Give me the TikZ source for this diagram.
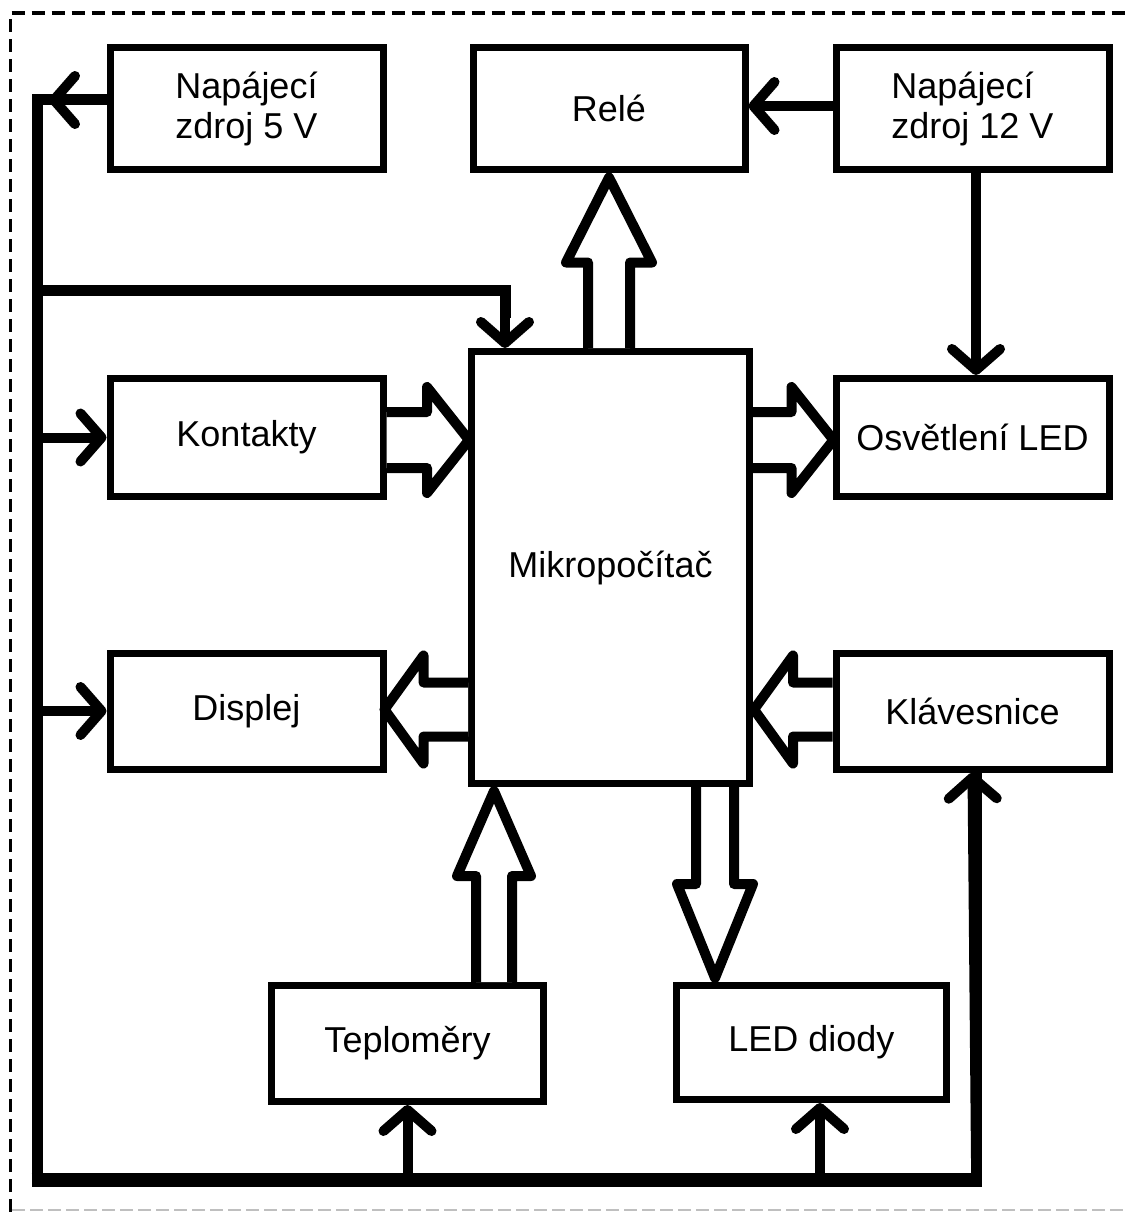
\documentclass[tikz,border=0pt]{standalone}
\usepackage{fontspec}
\setmainfont{Liberation Sans}
\usetikzlibrary{arrows.meta,calc}
\begin{document}
\begin{tikzpicture}[x=1pt,y=-1pt,
  blok/.style={draw, line width=7pt, fill=white, inner sep=0pt, align=left,
    minimum width=273pt, font=\fontsize{36}{40}\selectfont},
  hollow/.style={draw, line width=10pt, line join=round, fill=white},
  arr/.style={line width=10pt, -{Straight Barb[length=21pt,width=48pt,round]}},
  bus/.style={line width=11pt, line join=miter},
  frame/.style={line width=3.5pt, dash pattern=on 13pt off 7pt},
  frameb/.style={line width=2pt, color=black!25, dash pattern=on 13pt off 5pt}]
\useasboundingbox (0,0) rectangle (1127,1212);
\fill[white] (0,0) rectangle (1127,1212);
\draw[frame] (10.5,1212) -- (10.5,13) -- (1127,13);
\draw[frameb] (12,1210) -- (1127,1210);

% coordinates of the supply bus
\coordinate (tl) at (37,100);
\coordinate (b2) at (37,290);
\coordinate (bl) at (37,1180);
\coordinate (br) at (976,1180);

% blocks
\node[blok, minimum height=121pt] (p5) at (246.5,108.5) {Napájecí\\zdroj 5 V};
\node[blok, minimum width=272pt, minimum height=121pt, align=center] (rele) at (609,108.5) {\raisebox{-4pt}{Relé}};
\node[blok, minimum height=121pt] (p12) at (972.5,108.5) {Napájecí\\zdroj 12 V};
\node[blok, minimum height=118pt, align=center] (kont) at (246.5,437.5) {Kontakty};
\node[blok, minimum width=278pt, minimum height=432pt, align=center] (mikro) at (610.5,567.5) {Mikropočítač};
\node[blok, minimum height=118pt, align=center] (osv) at (972.5,437.5) {Osvětlení LED};
\node[blok, minimum height=116pt, align=center] (disp) at (246.5,711) {Displej};
\node[blok, minimum height=116pt, align=center] (klav) at (972.5,711) {Klávesnice};
\node[blok, minimum width=272pt, minimum height=116pt, align=center] (tepl) at (407.5,1043.5) {Teploměry};
\node[blok, minimum width=270pt, minimum height=114pt, align=center] (led) at (811.5,1042.5) {LED diody};

% hollow (bus) arrows
% Mikropocitac -> Rele
\draw[hollow] ($(rele.south|-mikro.north)+(-21,0)$) |- ($(rele.south)+(-43,90)$)
  -- ($(rele.south)+(0,5)$) -- ($(rele.south)+(43,90)$) -| ($(rele.south|-mikro.north)+(21,0)$);
% Teplomery -> Mikropocitac
\coordinate (t1) at ($(tepl.north)+(86.5,0)$);
\coordinate (t2) at ($(t1|-mikro.south)+(0,4)$);
\draw[hollow] ($(t1)+(-18,0)$) |- ($(t2)+(-37,85)$) -- (t2) -- ($(t2)+(37,85)$) -| ($(t1)+(18,0)$);
% Mikropocitac -> LED diody
\coordinate (l2) at ($(led.north)+(-96.5,-4)$);
\draw[hollow] ($(l2|-mikro.south)+(-19,0)$) |- ($(l2)+(-38,-94)$) -- (l2) -- ($(l2)+(38,-94)$) -| ($(l2|-mikro.south)+(19,0)$);
% Kontakty -> Mikropocitac
\coordinate (k1) at ($(kont.east)+(0,2.5)$);
\coordinate (k2) at ($(mikro.west|-k1)+(1,0)$);
\draw[hollow] ($(k1)+(0,-28)$) -| ($(k2)+(-42,-53)$) -- (k2) -- ($(k2)+(-42,53)$) |- ($(k1)+(0,28)$);
% Mikropocitac -> Osvetleni LED
\coordinate (o1) at (mikro.east|-k1);
\coordinate (o2) at ($(osv.west|-k1)+(1,0)$);
\draw[hollow] ($(o1)+(0,-28)$) -| ($(o2)+(-42,-53)$) -- (o2) -- ($(o2)+(-42,53)$) |- ($(o1)+(0,28)$);
% Mikropocitac -> Displej
\coordinate (d2) at ($(disp.east)+(-2,-1.5)$);
\coordinate (d1) at (mikro.west|-d2);
\draw[hollow] ($(d1)+(0,-27)$) -| ($(d2)+(39,-54)$) -- (d2) -- ($(d2)+(39,54)$) |- ($(d1)+(0,27)$);
% Klavesnice -> Mikropocitac
\coordinate (kv1) at ($(klav.west)+(0,-1.5)$);
\coordinate (kv2) at ($(mikro.east|-kv1)+(1,0)$);
\draw[hollow] ($(kv1)+(0,-27)$) -| ($(kv2)+(39,-54)$) -- (kv2) -- ($(kv2)+(39,54)$) |- ($(kv1)+(0,27)$);

% supply bus
\draw[bus] (p5.west|-tl) -- (tl) -- (bl) -- (br) -- (br|-klav.south);
\draw[line width=14pt] ($(bl)+(-5.5,0)$) -- ($(br)+(5.5,0)$);
\draw[arr] (p5.west|-tl) -- ($(tl)+(12,0)$);
\draw[arr] ($(br)+(0,-20)$) -- (klav.south);
\draw[bus] (b2) -| ($(mikro.north)+(-105.5,-30)$);
\draw[arr] ($(mikro.north)+(-105.5,-40)$) -- ($(mikro.north)+(-105.5,0)$);
\draw[arr] (tl|-kont.west) -- (kont.west);
\draw[arr] (tl|-disp.west) -- (disp.west);
\draw[arr] (bl-|tepl.south) -- (tepl.south);
\coordinate (ls) at ($(led.south)+(8.5,0)$);
\draw[arr] (bl-|ls) -- (ls);

% 12 V supply
\coordinate (r12) at (0,106);
\draw[arr] (p12.west|-r12) -- (rele.east|-r12);
\coordinate (v12) at (976,0);
\draw[arr] (p12.south-|v12) -- (osv.north-|v12);
\end{tikzpicture}
\end{document}
